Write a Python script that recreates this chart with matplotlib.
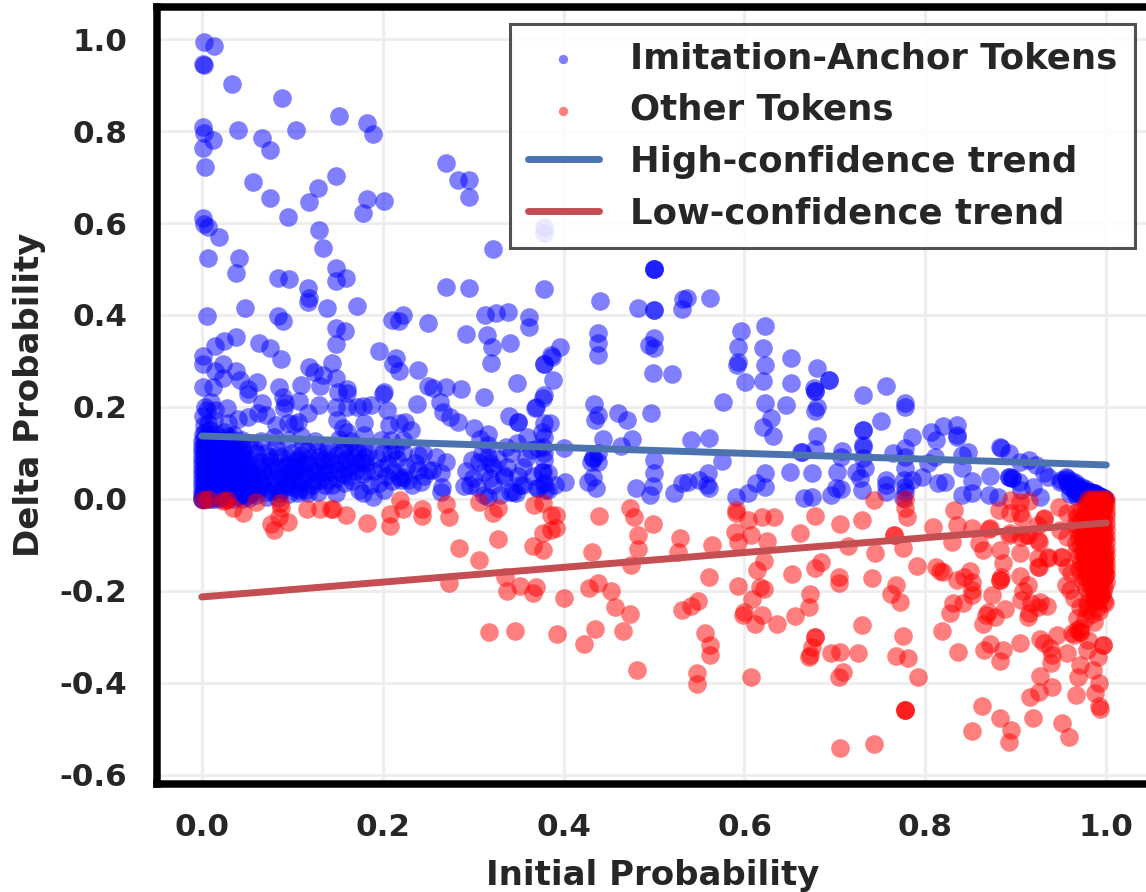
import numpy as np
import matplotlib
matplotlib.use('Agg')
import matplotlib.pyplot as plt

# values: (initial probability, delta probability)
blue_sparse = [
(.002,.994),(.014,.985),(.002,.943),(.001,.946),(.034,.902),(.089,.872),(.001,.809),(.002,.795),(.012,.780),(.001,.764),
(.004,.722),(.040,.802),(.067,.785),(.076,.758),(.104,.802),(.152,.832),(.183,.817),(.189,.793),(.270,.730),(.283,.693),
(.295,.693),(.295,.656),(.057,.689),(.076,.654),(.095,.613),(.119,.646),(.128,.676),(.148,.702),(.183,.652),(.202,.648),
(.178,.622),(.130,.585),(.134,.546),(.001,.611),(.002,.598),(.007,.591),(.019,.570),(.007,.524),(.041,.524),(.038,.491),
(.084,.480),(.096,.478),(.148,.502),(.159,.480),(.148,.474),(.118,.459),(.119,.437),(.270,.461),(.295,.459),(.322,.543),
(.378,.457),(.378,.591),(.378,.578),(.006,.398),(.048,.415),(.084,.398),(.090,.387),(.118,.428),(.138,.415),(.172,.420),
(.210,.389),(.218,.387),(.223,.400),(.250,.383),(.313,.400),(.325,.404),(.339,.407),(.362,.396),(.362,.374),(.148,.372),
(.158,.365),(.148,.337),(.038,.352),(.025,.343),(.015,.333),(.063,.339),(.076,.328),(.088,.304),(.001,.311),(.001,.293),
(.196,.322),(.215,.306),(.212,.293),(.218,.278),(.239,.280),(.292,.359),(.315,.356),(.321,.330),(.341,.339),(.320,.296),
(.348,.252),(.378,.293),(.378,.293),(.386,.313),(.023,.293),(.015,.278),(.024,.263),(.001,.243),(.012,.243),(.038,.278),
(.042,.259),(.061,.254),(.051,.239),(.051,.228),(.085,.243),(.090,.222),(.107,.213),(.110,.248),(.119,.287),(.124,.276),
(.134,.270),(.131,.246),(.144,.296),(.148,.263),(.151,.233),(.161,.239),(.161,.230),(.202,.233),(.200,.228),(.130,.204),
(.148,.200),(.161,.200),(.172,.200),(.178,.202),(.187,.204),(.205,.193),(.238,.207),(.263,.211),(.250,.246),(.256,.241),
(.270,.243),(.287,.239),(.312,.222),(.067,.209),(.028,.198),(.010,.211),(.004,.200),(.006,.193),(.015,.193),(.267,.189),
(.275,.178),(.283,.167),(.301,.154),(.316,.141),(.308,.130),(.316,.117),(.340,.180),(.350,.167),(.350,.167),(.369,.200),
(.377,.220),(.378,.165),(.385,.165),(.378,.226),(.118,.187),(.102,.163),(.092,.209),(.091,.198),(.071,.183),(.062,.187),
(.051,.178),(.040,.174),(.029,.165),(.082,.161),(.095,.165),(.106,.167),(.150,.172),(.156,.154),(.161,.146),(.179,.165),
(.179,.139),(.207,.161),(.218,.165),(.225,.167),(.231,.150),(.198,.128),(.209,.128),(.223,.128),(.156,.107),(.168,.111),
(.179,.113),(.181,.091),(.172,.078),(.161,.067),(.150,.063),(.181,.078),(.245,.100),(.239,.096),(.259,.091),(.270,.080),
(.264,.057),(.255,.063),(.250,.063),(.239,.063),(.223,.048),(.266,.026),(.264,.015),(.242,.037),(.228,.041),(.218,.048),
(.220,.041),(.201,.020),(.196,.035),(.189,.004),(.178,.013),(.174,.020),(.157,.035),(.148,.013),(.135,.059),(.131,.041),
(.117,.013),(.106,.013),(.214,.107),(.209,.100),(.222,.102),(.299,.085),(.306,.080),(.316,.091),(.319,.078),(.322,.070),
(.334,.052),(.319,.046),(.312,.059),(.355,.070),(.336,.113),(.349,.122),(.360,.135),(.364,.107),(.377,.113),(.377,.059),
(.383,.057),(.290,.028),(.297,.030),(.312,.009),(.316,.004),(.330,.009),(.341,.015),(.347,.013),(.355,.030),(.372,.024),
(.380,.020),(.500,.500),(.500,.500),(.500,.500),(.440,.430),(.482,.415),(.500,.411),(.500,.411),(.532,.435),(.537,.437),
(.531,.413),(.562,.437),(.396,.330),(.387,.309),(.388,.259),(.438,.361),(.438,.339),(.438,.313),(.500,.350),(.495,.335),
(.500,.328),(.499,.274),(.520,.272),(.596,.365),(.593,.330),(.593,.298),(.592,.291),(.623,.376),(.621,.328),(.623,.291),
(.621,.257),(.601,.254),(.652,.307),(.651,.252),(.646,.204),(.623,.209),(.629,.176),(.621,.157),(.632,.137),(.576,.211),
(.662,.102),(.541,.128),(.561,.133),(.575,.083),(.623,.057),(.613,.035),(.623,.026),(.604,.013),(.591,.004),(.650,.059),
(.560,.057),(.550,.041),(.559,.030),(.561,.024),(.538,.037),(.531,.035),(.522,.013),(.480,.024),(.500,.085),(.500,.057),
(.499,.028),(.496,.009),(.434,.207),(.438,.183),(.435,.172),(.460,.187),(.470,.172),(.497,.187),(.444,.130),(.464,.115),
(.476,.130),(.438,.100),(.430,.080),(.433,.089),(.438,.080),(.433,.089),(.433,.048),(.427,.037),(.436,.024),(.368,.198),
(.378,.085),(.376,.059),(.334,.048),(.402,.037),(.391,.030),(.378,.035),(.383,.020),(.371,.024),(.352,.030),(.344,.015),
(.376,.145),(.378,.135),(.400,.110),(.378,.100),(.680,.285),(.693,.259),(.693,.259),(.677,.241),(.678,.235),(.678,.235),
(.680,.200),(.678,.191),(.680,.137),(.678,.109),(.664,.102),(.731,.226),(.756,.246),(.778,.209),(.778,.200),(.751,.170),
(.731,.150),(.731,.150),(.731,.117),(.731,.113),(.731,.089),(.708,.104),(.707,.091),(.702,.059),(.675,.057),(.666,.002),
(.675,.004),(.696,.009),(.701,.024),(.707,.022),(.723,.059),(.728,.046),(.733,.067),(.730,.020),(.756,.041),(.756,.030),
(.756,.015),(.764,.100),(.777,.111),(.777,.091),(.785,.135),(.777,.067),(.776,.041),(.778,.026),(.778,.015),(.775,.002),
(.796,.048),(.785,.041),(.806,.146),(.819,.159),(.835,.161),(.835,.139),(.835,.135),(.812,.128),(.811,.091),(.803,.078),
(.847,.102),(.841,.096),(.841,.067),(.814,.035),(.822,.037),(.852,.039),(.841,.009),(.852,.013),(.871,.050),(.870,.009),
(.880,.004),(.883,.113),(.884,.111),(.892,.100),(.892,.048),(.892,.048),(.896,.046),(.896,.046),(.903,.037),(.906,.020),
(.927,.004),(.919,.026),(.905,.080),(.915,.085),(.922,.074),(.931,.057),(.936,.048),(.949,.037),
]
# the solid block near the origin
blue_dense = [
(.000,.000),(.001,.000),(.000,.001),(.003,.000),(.006,.000),(.010,.001),(.015,.000),(.021,.001),(.028,.000),(.036,.001),(.044,.000),(.052,.002),
(.000,.008),(.002,.010),(.006,.009),(.010,.012),(.015,.008),(.021,.011),(.028,.009),(.036,.012),(.044,.008),(.053,.011),(.060,.009),
(.000,.018),(.003,.021),(.007,.019),(.012,.022),(.017,.018),(.024,.021),(.031,.019),(.039,.022),(.047,.019),(.056,.022),
(.000,.030),(.002,.033),(.006,.029),(.011,.034),(.016,.031),(.022,.029),(.029,.034),(.037,.030),(.045,.033),(.054,.031),
(.000,.042),(.003,.045),(.008,.041),(.013,.046),(.018,.043),(.025,.041),(.032,.046),(.040,.042),(.048,.045),(.057,.043),
(.000,.054),(.002,.057),(.006,.053),(.011,.058),(.017,.055),(.023,.053),(.030,.058),(.038,.054),(.046,.057),(.055,.055),
(.000,.066),(.003,.069),(.008,.065),(.013,.070),(.019,.067),(.026,.065),(.033,.070),(.041,.066),(.049,.069),
(.000,.078),(.002,.081),(.006,.077),(.011,.082),(.017,.079),(.024,.077),(.031,.082),(.039,.078),(.047,.081),
(.000,.090),(.003,.093),(.008,.089),(.013,.094),(.019,.091),(.026,.089),(.034,.094),(.042,.090),
(.000,.102),(.002,.105),(.006,.101),(.012,.106),(.018,.103),(.025,.101),(.033,.106),(.041,.102),
(.000,.114),(.003,.117),(.008,.113),(.014,.118),(.021,.115),(.029,.113),(.038,.118),
(.000,.126),(.002,.130),(.007,.125),(.014,.131),(.022,.127),(.031,.130),
(.001,.142),(.004,.146),(.009,.150),(.016,.141),(.025,.145),(.036,.140),(.002,.160),(.007,.165),(.014,.172),(.001,.180),
(.060,.020),(.066,.040),(.072,.015),(.078,.060),(.084,.030),(.090,.050),(.096,.010),(.102,.072),(.108,.036),(.114,.055),
(.064,.080),(.070,.100),(.076,.082),(.082,.112),(.088,.092),(.094,.074),(.100,.100),(.106,.088),(.112,.118),(.118,.078),
(.124,.060),(.130,.092),(.136,.070),(.140,.042),(.122,.030),(.115,.020),(.060,.055),(.068,.060),(.074,.035),(.086,.012),
(.092,.032),(.098,.058),(.104,.024),(.110,.070),(.058,.110),(.066,.125),(.080,.135),(.095,.128),(.110,.138),(.125,.125),
(.140,.110),(.152,.130),(.165,.125),(.150,.095),(.142,.085),(.160,.088),(.136,.030),(.128,.015),(.072,.005),(.084,.003),
]
# second layer over the same block, the picture is fully saturated there
blue_dense2 = [
(.004,.004),(.012,.005),(.020,.004),(.030,.005),(.040,.006),(.050,.006),(.004,.015),(.012,.016),(.022,.015),(.032,.014),(.042,.015),(.052,.016),
(.005,.025),(.014,.026),(.024,.025),(.034,.024),(.044,.026),(.054,.025),(.004,.037),(.013,.038),(.023,.037),(.033,.036),(.043,.038),(.052,.037),
(.005,.048),(.015,.049),(.024,.048),(.035,.048),(.044,.049),(.052,.050),(.004,.060),(.014,.062),(.022,.061),(.034,.062),(.043,.062),(.052,.062),
(.005,.072),(.015,.073),(.024,.072),(.036,.074),(.045,.073),(.053,.074),(.004,.085),(.015,.086),(.022,.085),(.034,.086),(.044,.086),(.052,.084),
(.005,.097),(.015,.098),(.024,.096),(.036,.098),(.046,.097),(.004,.109),(.016,.110),(.026,.108),(.036,.110),(.046,.108),(.005,.121),(.017,.122),(.027,.121),(.040,.122),
(.006,.136),(.018,.135),(.030,.138),(.045,.128),(.052,.120),(.060,.100),(.062,.070),(.064,.035),
(.068,.025),(.070,.048),(.072,.072),(.074,.092),(.078,.018),(.080,.045),(.082,.070),(.084,.095),(.086,.055),(.088,.022),
(.092,.070),(.094,.042),(.096,.090),(.098,.028),(.100,.060),(.102,.048),(.104,.082),(.106,.062),(.108,.020),(.110,.095),
(.112,.040),(.114,.075),(.116,.105),(.118,.050),(.120,.090),(.124,.040),(.126,.072),(.128,.105),(.130,.055),(.134,.085),
(.138,.100),(.142,.060),(.144,.030),(.146,.075),(.150,.045),(.154,.080),(.156,.055),(.158,.110),(.162,.050),(.164,.072),
(.166,.040),(.168,.090),(.170,.060),(.172,.105),(.176,.080),(.178,.055),(.182,.060),(.184,.100),(.186,.030),(.190,.060),
(.194,.090),(.198,.068),(.200,.100),(.204,.050),(.206,.075),(.210,.040),(.212,.060),(.216,.088),(.226,.070),(.232,.030),
(.236,.078),(.246,.050),(.292,.060),(.300,.045),
(.304,.025),(.310,.100),(.322,.030),(.328,.088),(.338,.070),(.342,.100),(.350,.050),(.358,.090),(.366,.050),(.372,.110),
]
# the ridge that runs into (1, 0)
blue_ridge = [
(.950,.042),(.955,.041),(.958,.030),(.961,.035),(.964,.020),(.966,.030),(.968,.026),(.970,.012),(.972,.022),(.974,.020),
(.976,.010),(.978,.018),(.980,.015),(.982,.015),(.984,.006),(.986,.012),(.988,.010),(.990,.008),(.992,.006),(.994,.005),
(.996,.003),(.998,.002),(.999,.001),(.955,.048),(.960,.025),(.965,.012),(.972,.008),(.978,.005),(.985,.003),(.992,.002),
(.957,.046),(.962,.040),(.967,.034),(.973,.026),(.978,.022),(.983,.016),(.988,.012),(.993,.006),(.960,.010),(.968,.004),
]

red_sparse = [
(.001,-.002),(.007,.000),(.024,-.004),(.028,-.002),(.035,-.020),(.046,-.030),(.060,-.006),(.077,-.054),(.080,-.067),(.087,-.009),
(.088,-.020),(.085,-.039),(.095,-.050),(.116,-.022),(.131,-.022),(.143,-.022),(.145,-.022),(.160,-.035),(.183,-.052),(.208,-.033),
(.208,-.059),(.219,-.002),(.222,-.022),(.243,-.022),(.243,-.037),(.270,-.011),(.273,-.039),(.284,-.107),(.306,-.133),(.327,-.087),
(.273,-.183),(.307,-.007),(.322,-.030),(.328,-.020),(.367,-.013),(.377,-.009),(.386,-.035),(.377,-.074),(.366,-.102),(.377,-.111),
(.386,-.067),(.335,-.170),(.338,-.200),(.352,-.189),(.366,-.204),(.369,-.191),(.392,-.035),(.392,-.063),(.439,-.037),(.474,-.020),
(.478,-.039),(.499,-.054),(.482,-.078),(.482,-.109),(.475,-.143),(.432,-.115),(.529,-.085),(.526,-.115),(.564,-.100),(.561,-.170),
(.591,-.024),(.591,-.030),(.604,-.046),(.619,-.039),(.633,-.039),(.589,-.072),(.593,-.093),(.607,-.078),(.625,-.091),(.622,-.135),
(.614,-.154),(.661,-.074),(.678,-.037),(.706,-.054),(.730,-.046),(.715,-.102),(.744,-.117),(.765,-.078),(.765,-.078),(.775,-.107),
(.743,-.002),(.778,.000),(.777,-.020),(.780,-.039),(.808,-.061),(.832,-.024),(.835,-.057),(.829,-.093),(.791,-.146),(.852,-.063),
(.859,-.096),(.864,-.111),(.871,-.063),(.881,-.024),(.894,-.030),(.905,-.030),(.906,-.083),(.931,-.041),(.926,-.093),(.913,-.078),
(.894,-.074),(.882,-.111),(.905,-.117),(.886,-.139),(.924,-.128),(.926,-.148),(.936,-.126),(.950,-.126),(.812,-.148),(.816,-.157),
(.819,-.159),(.849,-.157),(.843,-.170),(.852,-.180),(.835,-.176),(.852,-.198),(.852,-.209),(.874,-.209),(.883,-.176),(.883,-.176),
(.884,-.170),(.842,-.226),(.831,-.226),(.827,-.248),(.818,-.287),(.836,-.333),(.905,-.167),(.914,-.187),(.908,-.200),(.906,-.220),
(.917,-.226),(.927,-.224),(.934,-.233),(.924,-.235),(.914,-.257),(.915,-.248),(.869,-.246),(.867,-.252),(.864,-.272),(.877,-.257),
(.888,-.239),(.872,-.315),(.865,-.328),(.886,-.328),(.882,-.352),(.905,-.313),(.927,-.304),(.931,-.313),(.938,-.324),(.940,-.339),
(.939,-.357),(.946,-.296),(.957,-.335),(.964,-.296),(.971,-.289),(.971,-.289),(.980,-.307),(.996,-.317),(.996,-.317),(.979,-.328),
(.991,-.343),(.971,-.361),(.985,-.372),(.969,-.387),(.992,-.400),(.987,-.422),(.966,-.426),(.940,-.409),(.927,-.385),(.926,-.420),
(.916,-.430),(.992,-.450),(.993,-.457),(.919,-.476),(.951,-.487),(.959,-.517),(.863,-.450),(.882,-.476),(.895,-.502),(.893,-.528),
(.852,-.504),(.706,-.541),(.743,-.533),(.778,-.459),(.778,-.459),(.778,-.459),(.792,-.387),(.781,-.346),(.768,-.341),(.775,-.298),
(.730,-.274),(.726,-.335),(.696,-.335),(.706,-.333),(.709,-.376),(.704,-.387),(.678,-.300),(.678,-.300),(.675,-.322),(.672,-.339),
(.671,-.343),(.768,-.187),(.762,-.207),(.772,-.224),(.741,-.172),(.705,-.170),(.705,-.183),(.685,-.137),(.678,-.150),(.653,-.163),
(.672,-.207),(.671,-.235),(.656,-.254),(.636,-.272),(.619,-.252),(.612,-.272),(.598,-.252),(.600,-.246),(.608,-.217),(.617,-.191),
(.622,-.196),(.593,-.189),(.607,-.387),(.562,-.317),(.562,-.339),(.556,-.291),(.548,-.378),(.547,-.402),(.549,-.222),(.541,-.233),
(.531,-.241),(.481,-.372),(.401,-.215),(.428,-.193),(.438,-.183),(.453,-.200),(.457,-.235),(.473,-.250),(.393,-.293),(.423,-.315),
(.435,-.283),(.466,-.287),(.318,-.289),(.346,-.287),(.895,-.002),(.905,-.007),(.915,-.004),(.948,-.017),(.957,-.030),(.966,-.028),
(.907,-.041),(.931,-.043),(.924,-.057),(.870,-.065),(.893,-.078),(.911,-.078),(.924,-.089),(.949,-.067),(.957,-.083),(.936,-.128),
(.951,-.126),(.925,-.148),(.957,-.148),(.961,-.161),(.955,-.187),(.960,-.198),(.964,-.215),(.971,-.235),(.968,-.259),(.979,-.241),
(.999,-.226),(.995,-.209),(.962,-.291),(.968,-.285),(.971,-.280),(.979,-.226),(.988,-.198),(.986,-.213),
]
# the solid block at the right edge
red_dense = [
(.980,.000),(.985,.000),(.990,.000),(.995,.000),(.999,.000),(1.0,-.002),(.978,-.012),(.984,-.010),(.990,-.012),(.996,-.010),(1.0,-.012),
(.972,-.024),(.978,-.026),(.984,-.024),(.990,-.026),(.996,-.024),(1.0,-.026),(.968,-.040),(.975,-.038),(.982,-.040),(.989,-.038),(.996,-.040),(1.0,-.038),
(.966,-.054),(.973,-.052),(.981,-.054),(.988,-.052),(.995,-.054),(1.0,-.052),(.968,-.068),(.975,-.066),(.982,-.068),(.989,-.066),(.996,-.068),(1.0,-.066),
(.970,-.082),(.977,-.080),(.984,-.082),(.991,-.080),(.997,-.082),(1.0,-.080),(.966,-.096),(.974,-.094),(.981,-.096),(.988,-.094),(.995,-.096),(1.0,-.094),
(.968,-.110),(.976,-.108),(.983,-.110),(.990,-.108),(.997,-.110),(1.0,-.108),(.970,-.124),(.977,-.122),(.984,-.124),(.991,-.122),(.997,-.124),(1.0,-.122),
(.972,-.138),(.979,-.136),(.986,-.138),(.993,-.136),(.998,-.138),(1.0,-.136),(.970,-.152),(.978,-.150),(.985,-.152),(.992,-.150),(.998,-.152),(1.0,-.150),
(.972,-.166),(.980,-.164),(.987,-.166),(.994,-.164),(.999,-.166),(1.0,-.164),(.974,-.180),(.982,-.178),(.989,-.180),(.995,-.178),(1.0,-.180),
(.978,-.194),(.985,-.192),(.991,-.194),(.997,-.192),(.982,-.208),(.988,-.206),(.994,-.208),(.986,-.222),(.992,-.220),(.998,-.222),
(.990,-.236),(.984,-.250),(.976,-.262),(.986,-.268),
(.982,-.004),(.992,-.006),(.998,-.018),(.986,-.018),(.976,-.032),(.986,-.032),(.994,-.032),(.972,-.046),(.984,-.046),(.994,-.046),
(.976,-.060),(.986,-.060),(.996,-.060),(.972,-.074),(.984,-.074),(.994,-.074),(.974,-.088),(.986,-.088),(.996,-.088),(.972,-.102),
(.984,-.102),(.994,-.102),(.974,-.116),(.986,-.116),(.996,-.116),(.976,-.130),(.988,-.130),(.997,-.130),(.975,-.144),(.986,-.144),
(.996,-.144),(.976,-.158),(.988,-.158),(.997,-.158),(.978,-.172),(.990,-.172),(.998,-.172),(.982,-.186),(.992,-.186),(.986,-.200),
(.996,-.200),(.990,-.214),(.980,-.232),(.992,-.244),
]

trend_x = [0.0, 1.0]
high_trend = [0.137, 0.074]
low_trend = [-0.213, -0.052]
xticks = [0.0, 0.2, 0.4, 0.6, 0.8, 1.0]
yticks = [-0.6, -0.4, -0.2, 0.0, 0.2, 0.4, 0.6, 0.8, 1.0]

blue = np.array(blue_sparse + blue_dense + blue_dense2 + blue_ridge)
red = np.array(red_sparse + red_dense)

plt.rcParams['axes.unicode_minus'] = False
plt.rcParams['font.weight'] = 'bold'
plt.rcParams['text.color'] = '#262626'

fig = plt.figure(figsize=(11.46, 8.92), dpi=100)
ax = fig.add_axes([156.5/1146, (892-783.7)/892, 995/1146, 777.2/892])
ax.scatter(blue[:,0], blue[:,1], s=180, color='blue', alpha=0.5, linewidths=0, label='Imitation-Anchor Tokens', zorder=2)
ax.scatter(red[:,0], red[:,1], s=180, color='red', alpha=0.5, linewidths=0, label='Other Tokens', zorder=2.1)
ax.plot(trend_x, high_trend, color='#4C72B0', lw=5, solid_capstyle='round', label='High-confidence trend', zorder=3)
ax.plot(trend_x, low_trend, color='#C44E52', lw=5, solid_capstyle='round', label='Low-confidence trend', zorder=3)
ax.set_xlim(-0.05, 1.05)
ax.set_ylim(-0.619, 1.0707)
ax.set_xticks(xticks)
ax.set_yticks(yticks)
ax.set_xticklabels(['%.1f' % t for t in xticks])
ax.set_yticklabels(['%.1f' % t for t in yticks])
ax.grid(True, color='#eeeeee', lw=2.2, zorder=0)
ax.set_axisbelow(True)
ax.tick_params(length=0, pad=21, labelsize=22.3, labelcolor='#262626')
for s in ax.spines.values():
    s.set_linewidth(5.4)
    s.set_color('black')
ax.set_xlabel('Initial Probability', fontsize=24.5, fontweight='bold', color='#262626')
ax.set_ylabel('Delta Probability', fontsize=24.5, fontweight='bold', color='#262626')
ax.xaxis.set_label_coords((653-156.5)/995, -(876-783.7)/777.2)
ax.yaxis.set_label_coords(-(156.5-30)/995, (783.7-395)/777.2)
ax.xaxis.label.set_va('center')
ax.yaxis.label.set_va('center')
leg = ax.legend(loc='upper right', bbox_to_anchor=((1133+1.5-156.5)/995, (783.7-23.5)/777.2), borderaxespad=0,
                fontsize=25.55, markerscale=0.5, frameon=True, fancybox=False, framealpha=0.85,
                edgecolor='#333333', labelspacing=0.5, handlelength=2.0, handletextpad=0.87, borderpad=0.5)
leg.get_frame().set_linewidth(2.2)
fig.savefig('out.png', dpi=100)
